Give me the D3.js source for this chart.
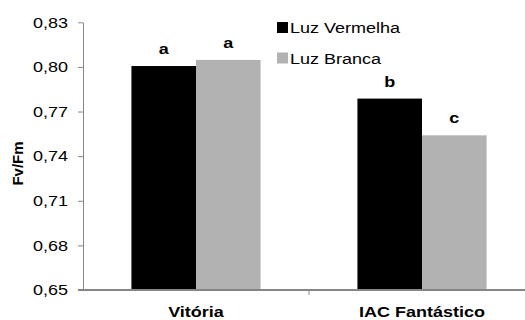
<!DOCTYPE html>
<html>
<head>
<meta charset="utf-8">
<script src="https://cdn.jsdelivr.net/npm/d3@7"></script>
<style>
  body { margin: 0; background: #fff; }
  text { font-family: "Liberation Sans", Arial, sans-serif; }
</style>
</head>
<body>
<svg></svg>
<script>
const width = 525;
const height = 320;

// data
const cultivars = ["Vitória", "IAC Fantástico"];
const seriesNames = ["Luz Vermelha", "Luz Branca"];
const seriesColors = ["#000000", "#b2b2b2"];
const luzVermelha = [0.8006, 0.7787];
const luzBranca = [0.8047, 0.7540];
const letrasVermelha = ["a", "b"];
const letrasBranca = ["a", "c"];
const yTicks = [0.65, 0.68, 0.71, 0.74, 0.77, 0.80, 0.83];

const sx = 1.2; // the original is a bit stretched sideways

const svg = d3.select("svg")
  .attr("width", width)
  .attr("height", height);

const marginLeft = 83;
const plotTop = 22.3;
const plotBottom = 290;
const plotRight = 535;

// scales
const x = d3.scaleBand()
  .domain(cultivars)
  .range([marginLeft, plotRight]);

const xSub = d3.scaleBand()
  .domain(seriesNames)
  .range([0, x.bandwidth()])
  .paddingInner(0)
  .paddingOuter(0.75);

const y = d3.scaleLinear()
  .domain([0.65, 0.83])
  .range([plotBottom, plotTop]);

// bars
const rows = cultivars.map((c, i) => ({
  cultivar: c,
  values: [
    { serie: seriesNames[0], v: luzVermelha[i], letra: letrasVermelha[i], color: seriesColors[0] },
    { serie: seriesNames[1], v: luzBranca[i], letra: letrasBranca[i], color: seriesColors[1] }
  ]
}));

const groups = svg.selectAll(".grupo")
  .data(rows)
  .enter().append("g")
  .attr("class", "grupo")
  .attr("transform", d => `translate(${x(d.cultivar)},0)`);

groups.selectAll("rect")
  .data(d => d.values)
  .enter().append("rect")
  .attr("x", d => xSub(d.serie))
  .attr("y", d => y(d.v))
  .attr("width", xSub.bandwidth())
  .attr("height", d => plotBottom - y(d.v))
  .attr("fill", d => d.color);

// significance letters
groups.selectAll(".letra")
  .data(d => d.values)
  .enter().append("text")
  .attr("class", "letra")
  .attr("transform", d => `translate(${xSub(d.serie) + xSub.bandwidth() / 2},${y(d.v) - 12}) scale(${sx},1)`)
  .attr("text-anchor", "middle")
  .attr("font-size", "15px")
  .attr("font-weight", "bold")
  .text(d => d.letra);

// y axis
const yAxis = svg.append("g")
  .attr("transform", `translate(${marginLeft},0)`)
  .call(d3.axisLeft(y)
    .tickValues(yTicks)
    .tickSize(5)
    .tickPadding(7.5)
    .tickSizeOuter(0)
    .tickFormat(d => d3.format(".2f")(d).replace(".", ",")));

yAxis.select(".domain").attr("stroke", "#868686");
yAxis.selectAll(".tick line").attr("stroke", "#868686");
yAxis.selectAll(".tick text")
  .attr("font-size", "15px")
  .attr("fill", "#000")
  .attr("transform", `scale(${sx},1)`);

// x axis
const xAxis = svg.append("g")
  .attr("transform", `translate(0,${plotBottom})`);

xAxis.append("line")
  .attr("x1", marginLeft - 5)
  .attr("x2", plotRight)
  .attr("stroke", "#868686")
  .attr("stroke-width", 2);

xAxis.selectAll(".sep")
  .data(cultivars.slice(1))
  .enter().append("line")
  .attr("class", "sep")
  .attr("x1", d => x(d))
  .attr("x2", d => x(d))
  .attr("y1", 0)
  .attr("y2", 5)
  .attr("stroke", "#868686");

xAxis.selectAll(".cat")
  .data(cultivars)
  .enter().append("text")
  .attr("class", "cat")
  .attr("transform", d => `translate(${x(d) + x.bandwidth() / 2},27) scale(${sx},1)`)
  .attr("text-anchor", "middle")
  .attr("font-size", "15px")
  .attr("font-weight", "bold")
  .text(d => d);

// y axis title
svg.append("text")
  .attr("transform", `translate(23,163.5) rotate(-90)`)
  .attr("text-anchor", "middle")
  .attr("font-size", "15px")
  .attr("font-weight", "bold")
  .text("Fv/Fm");

// legend
const legend = svg.append("g")
  .attr("transform", "translate(277,22)");

seriesNames.forEach((s, i) => {
  legend.append("rect")
    .attr("x", 0)
    .attr("y", i * 30.5)
    .attr("width", 11)
    .attr("height", 11)
    .attr("fill", seriesColors[i]);
  legend.append("text")
    .attr("transform", `translate(13,${i * 30.5 + 11}) scale(${sx},1)`)
    .attr("font-size", "15px")
    .text(s);
});
</script>
</body>
</html>
